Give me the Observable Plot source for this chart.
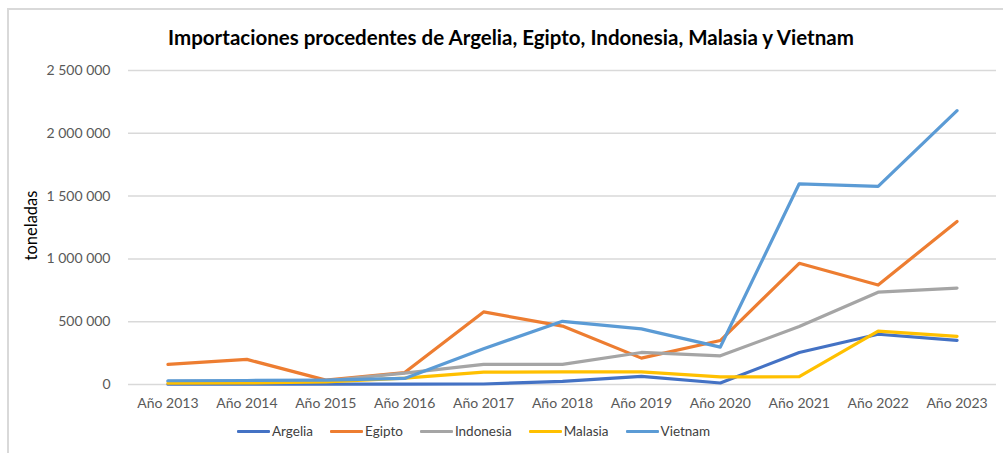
<!DOCTYPE html>
<html>
<head>
<meta charset="utf-8">
<script src="https://cdn.jsdelivr.net/npm/d3@7"></script>
<script src="https://cdn.jsdelivr.net/npm/@observablehq/plot@0.6"></script>
<style>
  html, body { margin: 0; padding: 0; background: #fff; }
  #wrap { position: relative; width: 1003px; height: 453px; overflow: hidden; font-family: Lato, "Liberation Sans", sans-serif; }
  #frame { position: absolute; left: 7px; top: 8px; width: 1010px; height: 460px; border-left: 2px solid #d9d9d9; border-top: 2px solid #d9d9d9; box-sizing: border-box; }
  #title { position: absolute; top: 25px; left: 0; width: 1022px; text-align: center; font-weight: bold; font-size: 20.5px; color: #000; }
  #chart { position: absolute; left: 0; top: 0; }
  #legend { position: absolute; top: 423px; left: 237px; display: flex; align-items: center; font-size: 13.5px; color: #404040; }
  .item { display: flex; align-items: center; margin-right: 17px; }
  .sw { width: 33px; height: 3px; margin-right: 2px; border-radius: 1px; }
</style>
</head>
<body>
<div id="wrap">
  <div id="frame"></div>
  <div id="chart"></div>
  <div id="title">Importaciones procedentes de Argelia, Egipto, Indonesia, Malasia y Vietnam</div>
  <div id="legend"></div>
</div>
<script>
const years = ["Año 2013","Año 2014","Año 2015","Año 2016","Año 2017","Año 2018","Año 2019","Año 2020","Año 2021","Año 2022","Año 2023"];
const seriesNames = ["Argelia","Egipto","Indonesia","Malasia","Vietnam"];
const seriesColors = ["#4472C4","#ED7D31","#A5A5A5","#FFC000","#5B9BD5"];
const argelia   = [2000, 2000, 3000, 3000, 4000, 25000, 65000, 12000, 255000, 400000, 352000];
const egipto    = [160000, 200000, 35000, 95000, 578000, 465000, 210000, 350000, 965000, 792000, 1298000];
const indonesia = [25000, 28000, 30000, 90000, 160000, 160000, 255000, 228000, 462000, 735000, 768000];
const malasia   = [10000, 12000, 20000, 50000, 98000, 100000, 100000, 60000, 62000, 425000, 383000];
const vietnam   = [30000, 32000, 35000, 48000, 285000, 503000, 443000, 298000, 1598000, 1578000, 2180000];
const yTicks = [0, 500000, 1000000, 1500000, 2000000, 2500000];

const values = [argelia, egipto, indonesia, malasia, vietnam];
const data = [];
seriesNames.forEach((s, i) => years.forEach((y, j) => data.push({serie: s, year: y, value: values[i][j]})));

const fmt = v => d3.format(",")(v).replace(/,/g, " ");

const plot = Plot.plot({
  width: 1003,
  height: 420,
  marginTop: 70,
  marginBottom: 36,
  marginLeft: 128,
  marginRight: 7,
  style: { fontFamily: "Lato, 'Liberation Sans', sans-serif", fontSize: "14px", color: "#595959", background: "transparent" },
  x: { type: "point", domain: years, padding: 0.5, round: false, label: null },
  y: { domain: [0, 2500000], ticks: yTicks, label: null },
  color: { domain: seriesNames, range: seriesColors },
  marks: [
    Plot.gridY(yTicks, { stroke: "#d9d9d9", strokeOpacity: 1, strokeWidth: 1.5 }),
    Plot.axisY(yTicks, { tickSize: 0, tickPadding: 18, tickFormat: fmt, fill: "#595959" }),
    Plot.axisX({ tickSize: 0, tickPadding: 14, fill: "#595959" }),
    Plot.line(data, { x: "year", y: "value", z: "serie", stroke: "serie", strokeWidth: 3.2, strokeLinejoin: "round", strokeLinecap: "round" }),
    Plot.text(["toneladas"], { frameAnchor: "left", textAnchor: "middle", dx: -97, dy: -2, rotate: -90, fontSize: 16.5, fill: "#000" })
  ]
});
document.getElementById("chart").appendChild(plot);

const legend = document.getElementById("legend");
seriesNames.forEach((s, i) => {
  const it = document.createElement("div");
  it.className = "item";
  const sw = document.createElement("div");
  sw.className = "sw";
  sw.style.background = seriesColors[i];
  const tx = document.createElement("span");
  tx.textContent = s;
  it.appendChild(sw); it.appendChild(tx);
  legend.appendChild(it);
});
</script>
</body>
</html>
